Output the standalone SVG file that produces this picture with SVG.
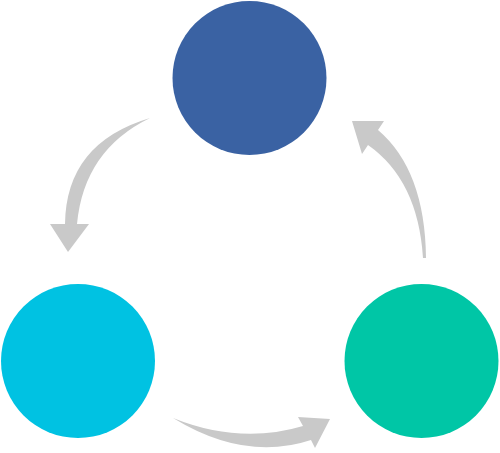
<svg xmlns="http://www.w3.org/2000/svg" width="500" height="453" viewBox="0 0 500 453">
<style>
.arrow{fill:#c9c9c9;stroke:none}
</style>
<rect width="500" height="453" fill="#ffffff"/>
<g id="node-top"><circle cx="249.5" cy="78" r="77" fill="#3a62a3"/></g>
<g id="node-left"><circle cx="78" cy="361" r="77" fill="#00c2e2"/></g>
<g id="node-right"><circle cx="421.5" cy="361" r="77" fill="#00c6a6"/></g>
<g id="connectors">
<path class="arrow" d="M150,118 Q66,143 65,224 L50,224 L68,252 L89,224 L77,224 Q84,150 150,118 Z"/>
<path class="arrow" d="M426,258 Q425,170 378,130 L384,121 L352,121 L362,154 L368,145 Q418,180 423,258 Z"/>
<path class="arrow" d="M173,418 Q240,445 303,426 L298,417 L330,419 L315,448 L311,440 Q245,462 173,418 Z"/>
</g>
</svg>
